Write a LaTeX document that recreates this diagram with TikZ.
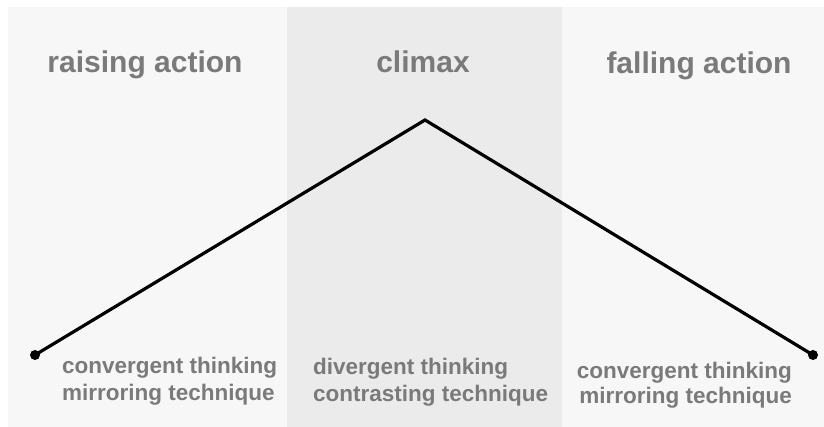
\documentclass[tikz,border=0pt]{standalone}
\usepackage{fontspec}
\setmainfont{Liberation Sans}
\definecolor{panellight}{HTML}{F7F7F7}
\definecolor{panelmid}{HTML}{EBEBEB}
\definecolor{labelgray}{HTML}{7A7A7A}
\begin{document}
\begin{tikzpicture}[x=1pt,y=-1pt,
  title/.style={anchor=base,inner sep=0pt,text=labelgray,font=\fontsize{30}{36}\selectfont\bfseries},
  note/.style={inner sep=0pt,text=labelgray,font=\fontsize{22.5}{27}\selectfont\bfseries},
  arc/.style={line width=3.2pt,line join=miter},
  enddot/.style={circle,fill=black,inner sep=0pt,minimum size=10pt}]
\useasboundingbox (0,0) rectangle (824,427);
\fill[white] (0,0) rectangle (824,427);
\fill[panellight] (8,7) rectangle (287,427);
\fill[panelmid] (287,7) rectangle (562,427);
\fill[panellight] (562,7) rectangle (824,427);
\node[title] (t1) at (145,73) {raising action};
\node[title] (t2) at (423,73) {climax};
\node[title] (t3) at (699,74) {falling action};
\node[enddot] (d1) at (35,355) {};
\node[enddot] (d2) at (813,355) {};
\coordinate (peak) at (425,120);
\draw[arc] (d1.center) -- (peak) -- (d2.center);
\node[note,anchor=base west] (l1) at (62,373) {convergent thinking};
\node[note,anchor=base west] (l2) at (62,400) {mirroring technique};
\node[note,anchor=base west] (m1) at (313,374) {divergent thinking};
\node[note,anchor=base west] (m2) at (313,401) {contrasting technique};
\node[note,anchor=base east] (r1) at (792,378) {convergent thinking};
\node[note,anchor=base east] (r2) at (792,403) {mirroring technique};
\end{tikzpicture}
\end{document}
